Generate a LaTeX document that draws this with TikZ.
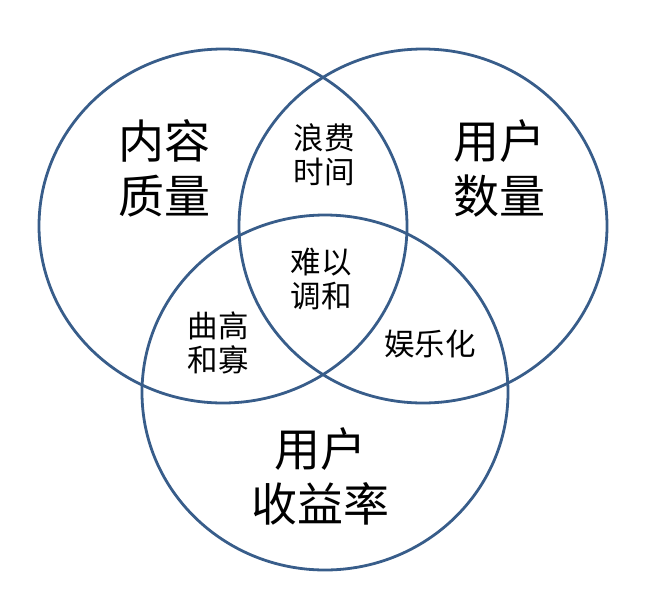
\documentclass[tikz,border=0pt]{standalone}
\usepackage{fontspec}
\setmainfont{Noto Sans CJK SC}
\definecolor{ringblue}{RGB}{56,93,138}
\begin{document}
\begin{tikzpicture}[x=1pt,y=-1pt,
  ring/.style={draw=ringblue,line width=2.8pt},
  bigtxt/.style={inner sep=0pt,align=center,font=\fontsize{46}{55}\selectfont},
  smalltxt/.style={inner sep=0pt,align=center,font=\fontsize{30.5}{34}\selectfont}]
\useasboundingbox (0,0) rectangle (647,600);
\draw[ring] (223,226) ellipse [x radius=184pt, y radius=177pt];
\draw[ring] (423,226) ellipse [x radius=184pt, y radius=177pt];
\draw[ring] (325,392.5) ellipse [x radius=183pt, y radius=177.5pt];
\node[bigtxt] (nrzl) at (164,168.5) {内容\\质量};
\node[bigtxt] (yhsl) at (499,168) {用户\\数量};
\node[bigtxt] (yhsyl) at (320,476) {用户\\收益率};
\node[smalltxt] (lfsj) at (324,155) {浪费\\时间};
\node[smalltxt] (nyth) at (321,279) {难以\\调和};
\node[smalltxt] (qghg) at (218,343) {曲高\\和寡};
\node[smalltxt] (ylh) at (430,343.5) {娱乐化};
\end{tikzpicture}
\end{document}
